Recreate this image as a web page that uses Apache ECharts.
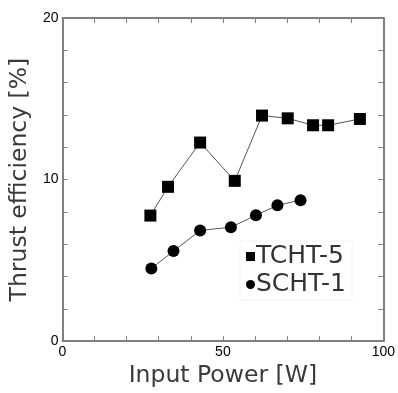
<!DOCTYPE html>
<html><head><meta charset="utf-8">
<script src="https://cdn.jsdelivr.net/npm/echarts@6/dist/echarts.min.js"></script>
<style>html,body{margin:0;padding:0;background:#fff}#c{width:398px;height:393px}</style>
</head><body><div id="c"></div>
<script>
const tchtX = [27.4, 32.9, 42.9, 53.7, 62.2, 70.2, 78.1, 82.8, 92.7];
const tchtY = [7.77, 9.55, 12.29, 9.92, 13.96, 13.79, 13.36, 13.36, 13.75];
const schtX = [27.7, 34.6, 42.9, 52.5, 60.3, 67.0, 74.2];
const schtY = [4.50, 5.57, 6.85, 7.05, 7.79, 8.41, 8.72];
const xLabels = [0, 50, 100];
const yLabels = [0, 10, 20];
const seriesNames = ['TCHT-5', 'SCHT-1'];

const pair = (xs, ys) => xs.map((x, i) => [x, ys[i]]);
const axisCol = '#808080';
const titleFont = '"DejaVu Sans", "Noto Sans", sans-serif';
const numFont = '"Liberation Sans", Arial, sans-serif';

const chart = echarts.init(document.getElementById('c'));
chart.setOption({
  animation: false,
  grid: { left: 62, top: 18, width: 324, height: 323.5, containLabel: false },
  legend: {
    orient: 'vertical', left: 240, top: 241, itemGap: 3,
    itemWidth: 9, itemHeight: 9,
    padding: [3, 6, 3, 6],
    borderColor: '#f4f4f4', borderWidth: 1,
    textStyle: { fontFamily: titleFont, fontSize: 25, color: '#333', padding: [0, 0, 0, -4] },
    data: [
      { name: seriesNames[0], icon: 'rect', itemStyle: { color: '#000' } },
      { name: seriesNames[1], icon: 'circle', itemStyle: { color: '#000' } }
    ]
  },
  xAxis: [{
    type: 'value', min: 0, max: 100, interval: 10,
    name: 'Input Power [W]', nameLocation: 'middle', nameGap: 12,
    nameTextStyle: { fontFamily: titleFont, fontSize: 23.5, color: '#3a3a3a', verticalAlign: 'top' },
    axisLine: { onZero: false, lineStyle: { color: axisCol, width: 2 } },
    axisTick: { inside: true, length: 5, lineStyle: { color: axisCol, width: 1 } },
    axisLabel: { fontFamily: numFont, fontSize: 14, color: '#000', margin: 4,
      formatter: v => xLabels.includes(v) ? String(v) : '' },
    splitLine: { show: false }
  }, {
    type: 'value', min: 0, max: 100, interval: 10, position: 'top',
    axisLine: { show: true, onZero: false, lineStyle: { color: axisCol, width: 2 } },
    axisTick: { show: true, inside: true, length: 5, lineStyle: { color: axisCol, width: 1 } },
    axisLabel: { show: false }, splitLine: { show: false }
  }],
  yAxis: [{
    type: 'value', min: 0, max: 20, interval: 2,
    name: 'Thrust efficiency [%]', nameLocation: 'middle', nameGap: 19, nameRotate: 90,
    nameTextStyle: { fontFamily: titleFont, fontSize: 23.5, color: '#3a3a3a' },
    axisLine: { show: true, onZero: false, lineStyle: { color: axisCol, width: 2 } },
    axisTick: { show: true, inside: true, length: 5, lineStyle: { color: axisCol, width: 1 } },
    axisLabel: { fontFamily: numFont, fontSize: 14, color: '#000', margin: 4,
      formatter: v => yLabels.includes(v) ? String(v) : '' },
    splitLine: { show: false }
  }, {
    type: 'value', min: 0, max: 20, interval: 2, position: 'right',
    axisLine: { show: true, onZero: false, lineStyle: { color: axisCol, width: 2 } },
    axisTick: { show: true, inside: true, length: 5, lineStyle: { color: axisCol, width: 1 } },
    axisLabel: { show: false }, splitLine: { show: false }
  }],
  series: [{
    name: seriesNames[0], type: 'line', data: pair(tchtX, tchtY),
    symbol: 'rect', symbolSize: 12,
    itemStyle: { color: '#000' },
    lineStyle: { color: '#555', width: 1 }
  }, {
    name: seriesNames[1], type: 'line', data: pair(schtX, schtY),
    symbol: 'circle', symbolSize: 12,
    itemStyle: { color: '#000' },
    lineStyle: { color: '#555', width: 1 }
  }]
});
</script></body></html>
